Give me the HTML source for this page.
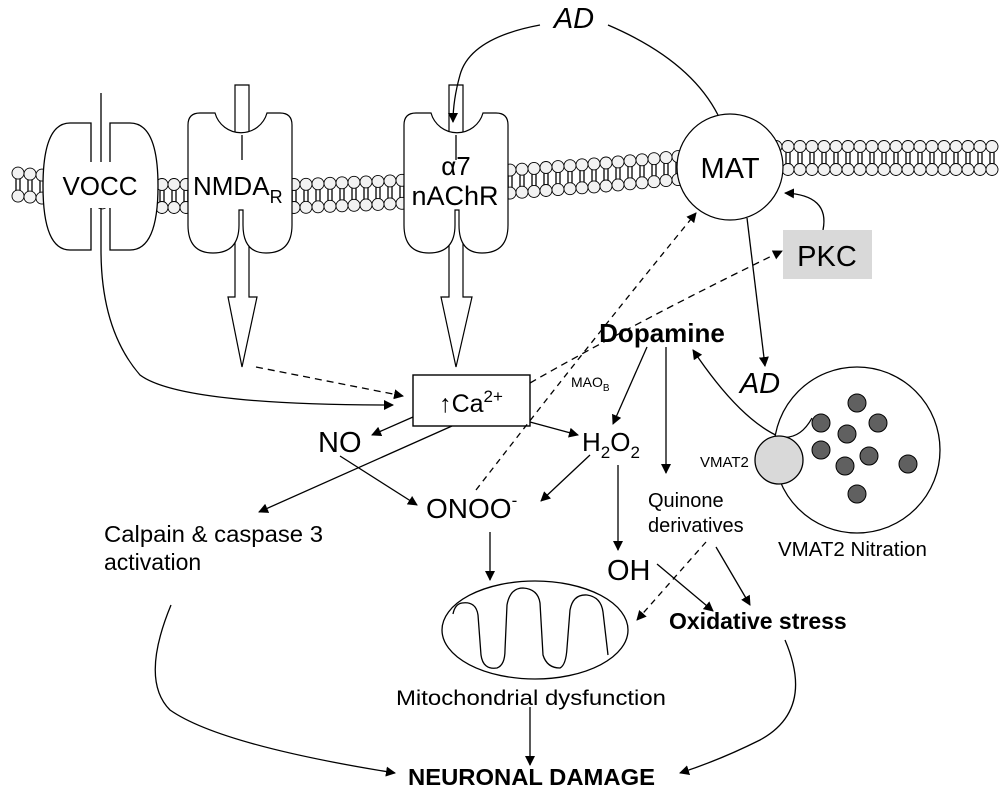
<!DOCTYPE html>
<html><head><meta charset="utf-8"><style>
html,body{margin:0;padding:0;background:#fff}
svg{display:block}
text{font-family:"Liberation Sans",Arial,sans-serif;fill:#000}
</style></head><body>
<svg width="1000" height="801" viewBox="0 0 1000 801" xmlns="http://www.w3.org/2000/svg" xmlns:xlink="http://www.w3.org/1999/xlink">
<defs>
<marker id="a" viewBox="0 0 10 10" refX="9" refY="5" markerWidth="10" markerHeight="10" markerUnits="userSpaceOnUse" orient="auto"><path d="M0,0 L10,5 L0,10 z" fill="#000"/></marker>
<g id="L">
<line x1="-2" y1="-6" x2="-2" y2="6" stroke="#333" stroke-width="1.6"/>
<line x1="2" y1="-6" x2="2" y2="6" stroke="#333" stroke-width="1.6"/>
<circle cx="0" cy="-11.5" r="6" fill="#f2f2f2" stroke="#000" stroke-width="0.9"/>
<circle cx="0" cy="11.5" r="6" fill="#f2f2f2" stroke="#000" stroke-width="0.9"/>
</g>
</defs>
<g>
<use xlink:href="#L" x="18" y="184.6"/><use xlink:href="#L" x="30" y="185.6"/><use xlink:href="#L" x="42" y="186.6"/><use xlink:href="#L" x="54" y="187.5"/><use xlink:href="#L" x="66" y="188.5"/><use xlink:href="#L" x="78" y="189.4"/><use xlink:href="#L" x="90" y="190.4"/><use xlink:href="#L" x="102" y="191.4"/><use xlink:href="#L" x="114" y="192.3"/><use xlink:href="#L" x="126" y="193.3"/><use xlink:href="#L" x="138" y="194.2"/><use xlink:href="#L" x="150" y="195.2"/><use xlink:href="#L" x="162" y="196"/>
<use xlink:href="#L" x="174" y="196"/><use xlink:href="#L" x="186" y="196"/><use xlink:href="#L" x="198" y="196"/><use xlink:href="#L" x="210" y="196"/><use xlink:href="#L" x="222" y="196"/><use xlink:href="#L" x="234" y="196"/><use xlink:href="#L" x="246" y="196"/><use xlink:href="#L" x="258" y="196"/><use xlink:href="#L" x="270" y="196"/><use xlink:href="#L" x="282" y="196"/><use xlink:href="#L" x="294" y="196"/>
<use xlink:href="#L" x="306" y="195.8"/><use xlink:href="#L" x="318" y="195.3"/><use xlink:href="#L" x="330" y="194.8"/><use xlink:href="#L" x="342" y="194.3"/><use xlink:href="#L" x="354" y="193.8"/><use xlink:href="#L" x="366" y="193.4"/><use xlink:href="#L" x="378" y="192.9"/><use xlink:href="#L" x="390" y="192.4"/><use xlink:href="#L" x="402" y="191.8"/><use xlink:href="#L" x="414" y="190.7"/><use xlink:href="#L" x="426" y="189.5"/><use xlink:href="#L" x="438" y="188.4"/><use xlink:href="#L" x="450" y="187.2"/><use xlink:href="#L" x="462" y="186.1"/><use xlink:href="#L" x="474" y="185"/><use xlink:href="#L" x="486" y="183.8"/><use xlink:href="#L" x="498" y="182.7"/><use xlink:href="#L" x="510" y="181.6"/><use xlink:href="#L" x="522" y="180.7"/><use xlink:href="#L" x="534" y="179.9"/><use xlink:href="#L" x="546" y="179"/><use xlink:href="#L" x="558" y="178.1"/><use xlink:href="#L" x="570" y="177.2"/><use xlink:href="#L" x="582" y="176.3"/><use xlink:href="#L" x="594" y="175.4"/><use xlink:href="#L" x="606" y="174.5"/><use xlink:href="#L" x="618" y="173.4"/><use xlink:href="#L" x="630" y="172.3"/><use xlink:href="#L" x="642" y="171.3"/><use xlink:href="#L" x="654" y="170.2"/><use xlink:href="#L" x="666" y="169.1"/><use xlink:href="#L" x="678" y="168.1"/><use xlink:href="#L" x="690" y="167"/>
<use xlink:href="#L" x="776" y="158"/><use xlink:href="#L" x="788" y="158"/><use xlink:href="#L" x="800" y="158"/><use xlink:href="#L" x="812" y="158"/><use xlink:href="#L" x="824" y="158"/><use xlink:href="#L" x="836" y="158"/><use xlink:href="#L" x="848" y="158"/><use xlink:href="#L" x="860" y="158"/><use xlink:href="#L" x="872" y="158"/><use xlink:href="#L" x="884" y="158"/><use xlink:href="#L" x="896" y="158"/><use xlink:href="#L" x="908" y="158"/><use xlink:href="#L" x="920" y="158"/><use xlink:href="#L" x="932" y="158"/><use xlink:href="#L" x="944" y="158"/><use xlink:href="#L" x="956" y="158"/><use xlink:href="#L" x="968" y="158"/><use xlink:href="#L" x="980" y="158"/><use xlink:href="#L" x="992" y="158"/>
</g>
<g fill="none" stroke="#000" stroke-width="1.2">
<path d="M235 85 L249 85 L249 297 L257 297 L242 367 L228 297 L235 297 Z" fill="#fff"/>
<path d="M449 85 L463 85 L463 297 L472 297 L456 367 L441 297 L449 297 Z" fill="#fff"/>
</g>
<g fill="#fff" stroke="#000" stroke-width="1.2">
<path d="M200 113 L215 113 A27 27 0 0 0 267 113 L280 113 Q292 113 292 125 L292 225 Q292 253 266 253 Q243 253 243 225 L243 210 L239 210 L239 225 Q239 253 213 253 Q188 253 188 225 L188 125 Q188 113 200 113 Z"/>
<path d="M416 113 L431 113 A27 27 0 0 0 483 113 L496 113 Q508 113 508 125 L508 225 Q508 253 482 253 Q459 253 459 225 L459 210 L455 210 L455 225 Q455 253 429 253 Q404 253 404 225 L404 125 Q404 113 416 113 Z"/>
<path d="M91 123 L91 162 L110 162 L110 123 L130 123 Q158 123 158 186 Q158 250 130 250 L110 250 L110 208 L91 208 L91 250 L70 250 Q43 250 43 186 Q43 123 70 123 Z" stroke="none"/>
<circle cx="730" cy="167" r="53"/>
</g>
<g fill="none" stroke="#000" stroke-width="1.3">
<path d="M91 162 L91 123 L70 123 Q43 123 43 186 Q43 250 70 250 L91 250 L91 208"/>
<path d="M110 162 L110 123 L130 123 Q158 123 158 186 Q158 250 130 250 L110 250 L110 208"/>
<line x1="242" y1="135" x2="242" y2="160"/>
<line x1="456" y1="135" x2="456" y2="160"/>
<line x1="101" y1="93" x2="101" y2="162"/>
<path d="M101 208 L101 250 Q101 330 140 375 Q180 405 393 405" marker-end="url(#a)"/>
<rect x="413" y="375" width="117" height="51" fill="#fff" stroke-width="1.4"/>
<path d="M256 367 L403 396" stroke-dasharray="7,5" marker-end="url(#a)"/>
<path d="M530 383 Q640 320 782 251" stroke-dasharray="7,5" marker-end="url(#a)"/>
<path d="M476 490 Q600 330 696 213" stroke-dasharray="6,5" marker-end="url(#a)"/>
<path d="M706 542 L637 620" stroke-dasharray="6,5" marker-end="url(#a)"/>
<path d="M540 25 Q470 38 460 75 Q453 100 453 122" marker-end="url(#a)"/>
<path d="M608 25 Q690 60 718 115"/>
<path d="M823 230 Q830 195 785 193" marker-end="url(#a)"/>
<path d="M747 218 L765 366" marker-end="url(#a)"/>
<path d="M647 347 L613 424" marker-end="url(#a)"/>
<path d="M666 347 L666 473" marker-end="url(#a)"/>
<path d="M812 418 Q800 438 780 437 Q740 420 693 350" marker-end="url(#a)"/>
<path d="M413 417 L372 435" marker-end="url(#a)"/>
<path d="M530 422 L578 435" marker-end="url(#a)"/>
<path d="M452 426 L259 512" marker-end="url(#a)"/>
<path d="M340 456 L417 505" marker-end="url(#a)"/>
<path d="M590 455 L541 501" marker-end="url(#a)"/>
<path d="M618 465 L618 550" marker-end="url(#a)"/>
<path d="M490 532 L490 580" marker-end="url(#a)"/>
<path d="M657 564 L713 611" marker-end="url(#a)"/>
<path d="M716 547 L750 605" marker-end="url(#a)"/>
<ellipse cx="535" cy="630" rx="93" ry="49"/>
<path d="M453 614 Q455 604 462 603 Q476 601 478 615 L481 655 Q483 670 497 668 Q505 665 505 650 L507 605 Q510 588 523 588 Q538 589 540 603 L543 655 Q547 668 560 668 Q566 665 567 648 L570 610 Q573 594 587 595 Q601 597 603 612 L608 655"/>
<path d="M530 707 L530 765" marker-end="url(#a)"/>
<path d="M171 605 Q140 680 170 710 Q220 745 395 773" marker-end="url(#a)"/>
<path d="M785 640 Q815 710 760 740 Q720 760 680 773" marker-end="url(#a)"/>
<circle cx="857" cy="450" r="83" fill="#fff"/>
<path d="M780 437 Q800 440 812 418"/>
<circle cx="779" cy="460" r="24" fill="#d9d9d9"/>
</g>
<g fill="#606060" stroke="#000" stroke-width="1">
<circle cx="857" cy="403" r="9"/><circle cx="821" cy="423" r="9"/><circle cx="878" cy="423" r="9"/>
<circle cx="847" cy="434" r="9"/><circle cx="821" cy="450" r="9"/><circle cx="869" cy="456" r="9"/>
<circle cx="845" cy="466" r="9"/><circle cx="908" cy="464" r="9"/><circle cx="857" cy="494" r="9"/>
</g>
<rect x="783" y="230" width="89" height="49" fill="#d9d9d9"/>
<text x="827" y="266" font-size="29" text-anchor="middle">PKC</text>
<text x="730" y="178" font-size="29" text-anchor="middle">MAT</text>
<text x="100" y="195" font-size="26" text-anchor="middle">VOCC</text>
<text x="193" y="195" font-size="26">NMDA<tspan font-size="18" dy="8">R</tspan></text>
<text x="456" y="175" font-size="26" text-anchor="middle">α7</text>
<text x="455" y="205" font-size="27" text-anchor="middle">nAChR</text>
<text x="574" y="28" font-size="29" font-style="italic" text-anchor="middle">AD</text>
<text x="760" y="393" font-size="29" font-style="italic" text-anchor="middle">AD</text>
<text x="471" y="412" font-size="25" text-anchor="middle">↑Ca<tspan font-size="17" dy="-10">2+</tspan></text>
<text x="662" y="342" font-size="26" font-weight="bold" text-anchor="middle">Dopamine</text>
<text x="571" y="387" font-size="14">MAO<tspan font-size="10" dy="4">B</tspan></text>
<text x="318" y="452" font-size="29">NO</text>
<text x="582" y="451" font-size="26">H<tspan font-size="17" dy="7">2</tspan><tspan dy="-7">O</tspan><tspan font-size="17" dy="7">2</tspan></text>
<text x="426" y="518" font-size="28">ONOO<tspan font-size="17" dy="-12">-</tspan></text>
<text x="104" y="542" font-size="23" textLength="219" lengthAdjust="spacingAndGlyphs">Calpain &amp; caspase 3</text>
<text x="104" y="570" font-size="23">activation</text>
<text x="648" y="507" font-size="20">Quinone</text>
<text x="648" y="532" font-size="20">derivatives</text>
<text x="700" y="467" font-size="15">VMAT2</text>
<text x="778" y="556" font-size="20.5">VMAT2 Nitration</text>
<text x="607" y="580" font-size="29">OH</text>
<text x="669" y="629" font-size="23" font-weight="bold">Oxidative stress</text>
<text x="396" y="705" font-size="21" textLength="270" lengthAdjust="spacingAndGlyphs">Mitochondrial dysfunction</text>
<text x="408" y="785" font-size="23" font-weight="bold" textLength="247" lengthAdjust="spacingAndGlyphs">NEURONAL DAMAGE</text>
</svg>
</body></html>
